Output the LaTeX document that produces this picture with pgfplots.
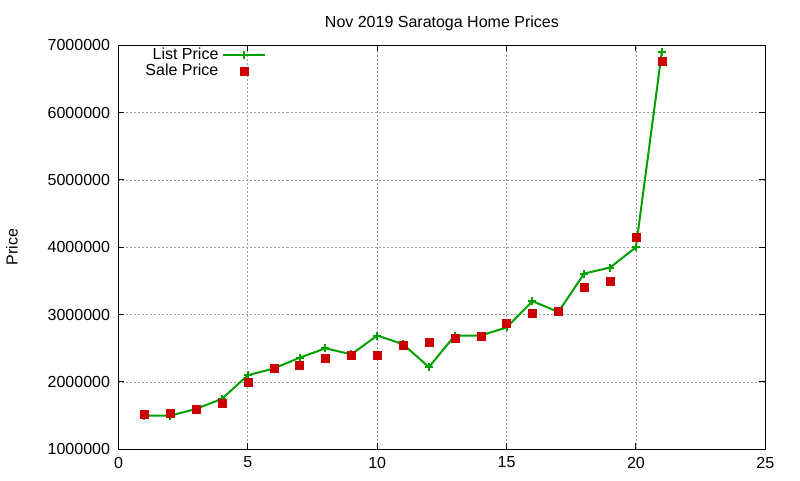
\documentclass[border=0pt]{standalone}
\usepackage{pgfplots}
\pgfplotsset{compat=1.18}
\usepackage{pgfplotstable}
\usepackage{fontspec}
\setmainfont{Liberation Sans}

\definecolor{listgreen}{RGB}{0,160,0}
\definecolor{salered}{RGB}{204,0,0}
\definecolor{gridgray}{RGB}{160,160,160}

% x, list price, sale price
\pgfplotstableread{
n   list     sale
1   1500000  1520000
2   1500000  1530000
3   1600000  1590000
4   1750000  1690000
5   2100000  2000000
6   2200000  2210000
7   2360000  2250000
8   2500000  2360000
9   2410000  2400000
10  2690000  2400000
11  2560000  2550000
12  2220000  2590000
13  2690000  2650000
14  2690000  2680000
15  2810000  2870000
16  3200000  3020000
17  3040000  3050000
18  3610000  3410000
19  3700000  3500000
20  4000000  4150000
21  6900000  6760000
}\prices

\begin{document}
\fontsize{16pt}{19pt}\selectfont
\begin{tikzpicture}
  \begin{axis}[
    name=main,
    scale only axis,
    width=646.8pt, height=404pt,
    xmin=0, xmax=25, ymin=1000000, ymax=7000000,
    xtick={0,5,...,25},
    ytick={1000000,2000000,3000000,4000000,5000000,6000000,7000000},
    yticklabels={1000000,2000000,3000000,4000000,5000000,6000000,7000000},
    scaled y ticks=false,
    tick align=inside,
    major tick length=6pt,
    tick style={black, line width=1pt},
    axis line style={black, line width=1pt},
    grid=major,
    major grid style={gridgray, dash pattern=on 2pt off 2pt, line width=0.8pt},
    /pgf/number format/assume math mode=true,
    tick label style={font=\fontsize{16pt}{19pt}\selectfont},
    xticklabel style={yshift=-2pt},
    yticklabel style={xshift=-3pt},
    title={Nov 2019 Saratoga Home Prices},
    title style={font=\fontsize{16pt}{19pt}\selectfont, yshift=3pt},
    ylabel={Price},
    ylabel style={font=\fontsize{16pt}{19pt}\selectfont, yshift=19pt},
    legend plot pos=right,
    legend cell align=right,
    legend style={at={(0.229,0.996)}, anchor=north east, draw=none, fill=none,
      font=\fontsize{16pt}{16pt}\selectfont,
      inner sep=0pt, row sep=0pt,
      nodes={inner xsep=4pt, inner ysep=1pt}},
    legend image code/.code={%
      \draw[mark repeat=2, mark phase=2] plot coordinates {(0pt,0pt) (21pt,0pt) (42pt,0pt)};},
  ]
    \addplot[listgreen, line width=2pt, mark=+, mark size=4pt,
      mark options={line width=2pt}] table[x=n, y=list] {\prices};
    \addlegendentry{List Price}
    \addplot[only marks, salered, mark=square*, mark size=4pt] table[x=n, y=sale] {\prices};
    \addlegendentry{Sale Price}
  \end{axis}
  \path (main.south west) ++(-118.5pt,-30.7pt) rectangle ++(800pt,480pt);
\end{tikzpicture}
\end{document}
